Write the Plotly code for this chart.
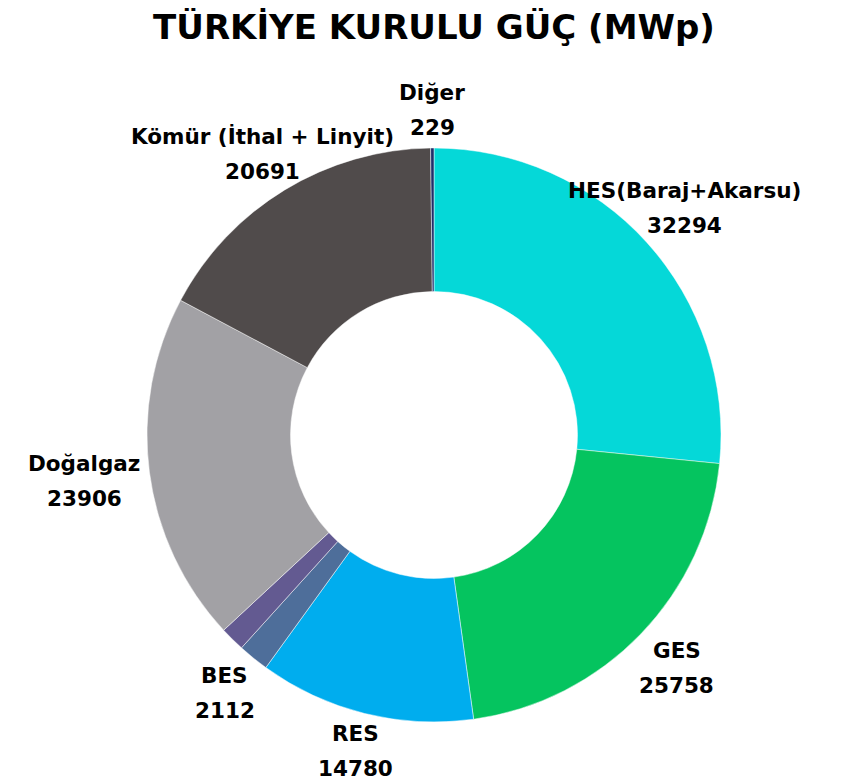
import math
import plotly.graph_objects as go

labels = ["HES(Baraj+Akarsu)", "GES", "RES", "BES", "JES", "Doğalgaz", "Kömür (İthal + Linyit)", "Diğer"]
values = [32294, 25758, 14780, 2112, 1691, 23906, 20691, 229]
show_label = [True, True, True, True, False, True, True, True]
colors = ["#05D8D8", "#05C45F", "#00ADEE", "#4E6E9A", "#635A91", "#A2A1A5", "#504B4B", "#1F2F6B"]

W, H = 843, 783
CX, CY, R = 426, 427, 287  # pie centre / radius in figure pixels
FONT = "DejaVu Sans"
LABEL_SIZE = 21.5

fig = go.Figure(go.Pie(
    labels=labels,
    values=values,
    textinfo="none",
    hole=0.5,
    sort=False,
    direction="clockwise",
    rotation=0,
    marker=dict(colors=colors, line=dict(color="rgba(255,255,255,0.6)", width=0.8)),
    domain=dict(x=[(CX - R) / W, (CX + R) / W], y=[1 - (CY + R) / H, 1 - (CY - R) / H]),
    showlegend=False,
    hoverinfo="label+value",
))

# outside labels placed at each slice's mid-angle
annotations = []
total = sum(values)
cum = 0
gap = 12
line_off = 17.5
box_h = 52
for lab, val, show in zip(labels, values, show_label):
    theta = 2 * math.pi * (cum + val / 2) / total
    cum += val
    if not show:
        continue
    s, c = math.sin(theta), math.cos(theta)
    w = max(len(lab), len(str(val))) * 0.62 * LABEL_SIZE
    cands = []
    if abs(s) > 1e-6:
        cands.append(w / 2 / abs(s))
    if abs(c) > 1e-6:
        cands.append(box_h / 2 / abs(c))
    d = R + gap + min(cands)
    px = CX + d * s
    py = CY - d * c
    for txt, dy in ((lab, -line_off), (str(val), line_off)):
        annotations.append(dict(
            x=px / W, y=1 - (py + dy) / H, xref="paper", yref="paper",
            text=txt, showarrow=False, xanchor="center", yanchor="middle",
            font=dict(family=FONT, size=LABEL_SIZE, color="#000000", weight="bold"),
        ))

fig.update_layout(
    width=W, height=H,
    margin=dict(l=0, r=0, t=0, b=0),
    paper_bgcolor="white",
    plot_bgcolor="white",
    annotations=annotations,
    title=dict(text="TÜRKİYE KURULU GÜÇ (MWp)", x=CX / W, xanchor="center", y=0.976, yanchor="middle",
               font=dict(family=FONT, size=34, color="#000000", weight="bold")),
)

fig.write_html("out.html")
